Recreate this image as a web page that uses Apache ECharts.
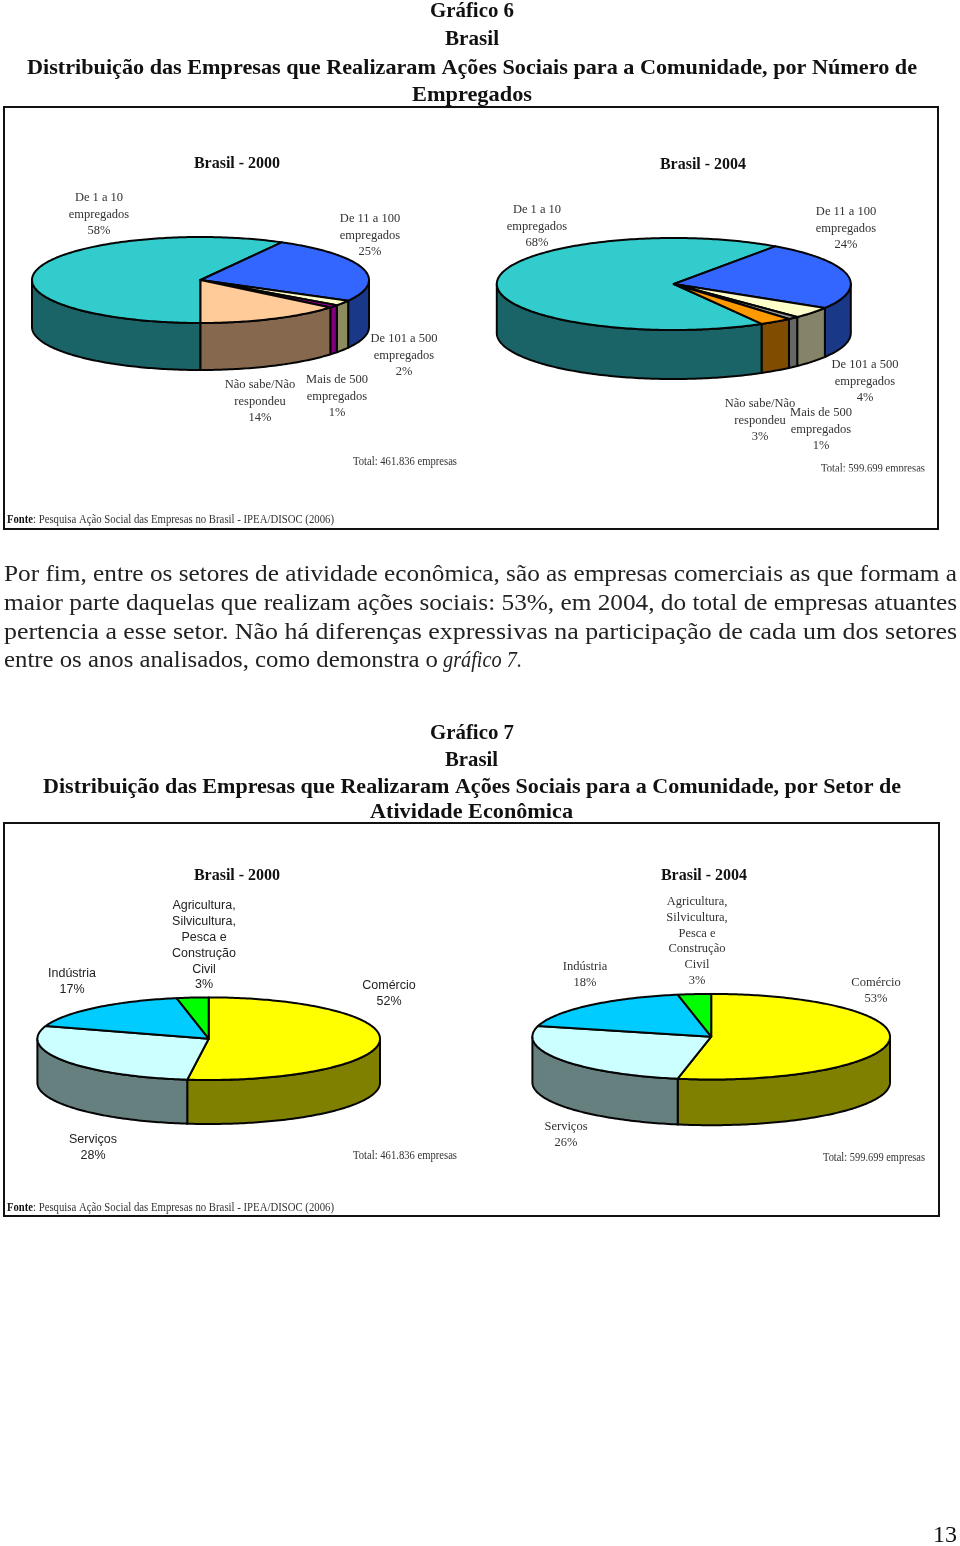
<!DOCTYPE html>
<html><head><meta charset="utf-8">
<style>html,body{margin:0;padding:0;background:#fff}#c{width:960px;height:1546px}</style>
<script src="https://cdn.jsdelivr.net/npm/echarts@6/dist/echarts.min.js"></script>
</head><body><div id="c"></div>
<script>
// ---------- data ----------
const porteNames2000 = ['De 1 a 10\nempregados','De 11 a 100\nempregados','De 101 a 500\nempregados','Mais de 500\nempregados','Não sabe/Não\nrespondeu'];
const porteValues2000 = [58,25,2,1,14];
const porteNames2004 = ['De 1 a 10\nempregados','De 11 a 100\nempregados','De 101 a 500\nempregados','Mais de 500\nempregados','Não sabe/Não\nrespondeu'];
const porteValues2004 = [68,24,4,1,3];
const setorNames = ['Comércio','Serviços','Indústria','Agricultura,\nSilvicultura,\nPesca e\nConstrução\nCivil'];
const setorValues2000 = [52,28,17,3];
const setorValues2004 = [53,26,18,3];

// ---------- colours ----------
const porteTop2000 = ['#33CCCC','#3366FF','#FFFFCC','#990099','#FFCC99'];
const porteSide2000 = ['#1A6468','#1A3888','#8C8C60','#80007F','#86684F'];
const porteTop2004 = ['#33CCCC','#3366FF','#FFFFCC','#969696','#FF9900'];
const porteSide2004 = ['#1A6468','#1A3888','#868468','#666666','#7F4C00'];
const setorTop = ['#FFFF00','#CCFFFF','#00CCFF','#00FF00'];
const setorSide = ['#808000','#668080','#006680','#008000'];

// ---------- layout ----------
const SERIF = '"Liberation Serif", serif';
const SANS = '"Liberation Sans", sans-serif';
const pies = [
  {names:porteNames2000, values:porteValues2000, top:porteTop2000, side:porteSide2000, cx:200.5, cy:280, rx:168.5, ry:43, depth:47, start:180,
   font:'12.5px '+SERIF, fill:'#333', lh:16.4,
   labels:[[99,198],[370,219],[404,339],[337,380],[260,385]]},
  {names:porteNames2004, values:porteValues2004, top:porteTop2004, side:porteSide2004, cx:673.8, cy:284, rx:177, ry:46, depth:49, start:150.2,
   font:'12.5px '+SERIF, fill:'#333', lh:16.4,
   labels:[[537,210],[846,212],[865,365],[821,413],[760,404]]},
  {names:setorNames, values:setorValues2000, top:setorTop, side:setorSide, cx:208.7, cy:1038.7, rx:171.3, ry:41.3, depth:44, start:0,
   font:'12.5px '+SANS, fill:'#222', lh:15.8,
   labels:[[389,986],[93,1140],[72,974],[204,906]]},
  {names:setorNames, values:setorValues2004, top:setorTop, side:setorSide, cx:711.2, cy:1036.7, rx:178.8, ry:42.8, depth:45.7, start:0,
   font:'12.5px '+SERIF, fill:'#333', lh:15.7,
   labels:[[876,983],[566,1127],[585,967],[697,902]]}
];

const cv = document.createElement('canvas').getContext('2d');
function fitText(text, font, left, right, y, fill){
  cv.font = font;
  const w = cv.measureText(text).width;
  return {type:'text', x:left, y:y, scaleX:(right-left)/w, z:5,
    style:{text:text, font:font, fill:fill||'#111', align:'left', verticalAlign:'middle', textAlign:'left', textVerticalAlign:'middle'}};
}
function centerText(text, font, x, y, fill){
  return {type:'text', x:x, y:y, z:5,
    style:{text:text, font:font, fill:fill||'#111', align:'center', verticalAlign:'middle', textAlign:'center', textVerticalAlign:'middle'}};
}
const TF = 'bold 22px '+SERIF, PF = '24px '+SERIF, PI = 'italic 24px '+SERIF, CF = 'bold 16px '+SERIF;
const SF = '11.5px '+SERIF;

const pageText = [
  fitText('Gráfico 6',TF,430,514,11),
  fitText('Brasil',TF,445,499,39),
  fitText('Distribuição das Empresas que Realizaram Ações Sociais para a Comunidade, por Número de',TF,27,917,68),
  fitText('Empregados',TF,412,532,95),
  fitText('Por fim, entre os setores de atividade econômica, são as empresas comerciais as que formam a',PF,4,957,575,'#222'),
  fitText('maior parte daquelas que realizam ações sociais: 53%, em 2004, do total de empresas atuantes',PF,4,957,604,'#222'),
  fitText('pertencia a esse setor. Não há diferenças expressivas na participação de cada um dos setores',PF,4,957,633,'#222'),
  fitText('entre os anos analisados, como demonstra o',PF,4,438,661,'#222'),
  fitText('gráfico 7.',PI,443,522,661,'#222'),
  fitText('Gráfico 7',TF,430,514,733),
  fitText('Brasil',TF,445,498,760),
  fitText('Distribuição das Empresas que Realizaram Ações Sociais para a Comunidade, por Setor de',TF,43,901,787),
  fitText('Atividade Econômica',TF,370,573,812),
  centerText('Brasil - 2000',CF,237,164),
  centerText('Brasil - 2004',CF,703,165),
  centerText('Brasil - 2000',CF,237,876),
  centerText('Brasil - 2004',CF,704,876),
  fitText('Total: 461.836 empresas',SF,353,457,462,'#333'),
  fitText('Total: 599.699 empresas',SF,821,925,469,'#333'),
  fitText('Total: 461.836 empresas',SF,353,457,1156,'#333'),
  fitText('Total: 599.699 empresas',SF,823,925,1158,'#333'),
  fitText('Fonte',"bold 11.5px "+SERIF,7,33,520,'#111'),
  fitText(': Pesquisa Ação Social das Empresas no Brasil - IPEA/DISOC (2006)',SF,33,334,520,'#333'),
  fitText('Fonte',"bold 11.5px "+SERIF,7,33,1208,'#111'),
  fitText(': Pesquisa Ação Social das Empresas no Brasil - IPEA/DISOC (2006)',SF,33,334,1208,'#333'),
  centerText('13','24px '+SERIF,945,1536,'#111')
];

const frames = [[4,107,934,422],[4,823,935,393]].map(f=>({type:'rect', z:1,
  shape:{x:f[0],y:f[1],width:f[2],height:f[3]}, style:{fill:'#fff',stroke:'#111',lineWidth:2}}));
// the source picture cuts the last line of the right-hand chart off
const cut = {type:'rect', z:6, shape:{x:815,y:471.5,width:115,height:12}, style:{fill:'#fff'}};

function pt(p,deg,dy){
  const t = deg*Math.PI/180;
  return [p.cx+p.rx*Math.sin(t), p.cy-p.ry*Math.cos(t)+(dy||0)];
}
function arc(p,a,b,dy){
  const out=[], n=Math.max(2,Math.ceil(Math.abs(b-a)));
  for(let i=0;i<=n;i++) out.push(pt(p,a+(b-a)*i/n,dy));
  return out;
}
function makeRender(p){
  const total = p.values.reduce((s,v)=>s+v,0);
  return function(params,api){
    const i = params.dataIndex, v = api.value(0);
    let before = 0;
    for(let k=0;k<i;k++) before += p.values[k];
    const a = p.start+before/total*360, b = a+v/total*360;
    const line = {stroke:'#050505', lineWidth:2, lineJoin:'round'};
    const children = [];
    [[90,270],[450,630]].forEach(r=>{
      const lo=Math.max(a,r[0]), hi=Math.min(b,r[1]);
      if(hi>lo){
        const pts = arc(p,lo,hi,0).concat(arc(p,hi,lo,p.depth));
        children.push({type:'polygon', z2:1, shape:{points:pts}, style:Object.assign({fill:p.side[i]},line)});
      }
    });
    children.push({type:'polygon', z2:2, shape:{points:[[p.cx,p.cy]].concat(arc(p,a,b,0))},
      style:Object.assign({fill:p.top[i]},line)});
    const lab = p.labels[i];
    children.push({type:'text', x:lab[0], y:lab[1]-p.lh/2, z2:3,
      style:{text:p.names[i]+'\n'+v+'%', font:p.font, fill:p.fill, lineHeight:p.lh,
        align:'center', verticalAlign:'top', textAlign:'center', textVerticalAlign:'top'}});
    return {type:'group', children:children};
  };
}

const chart = echarts.init(document.getElementById('c'),null,{renderer:'canvas',width:960,height:1546});
chart.setOption({
  animation:false,
  backgroundColor:'#fff',
  graphic:{elements:frames.concat(pageText,[cut])},
  series:pies.map(p=>({
    type:'custom', coordinateSystem:'none', silent:true, z:3, clip:false,
    data:p.values.map(v=>[v]),
    renderItem:makeRender(p)
  }))
});
</script></body></html>
